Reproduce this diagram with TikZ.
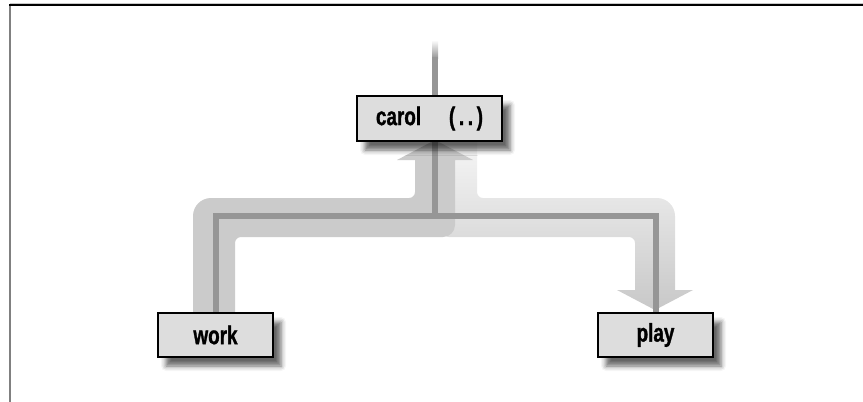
\documentclass[tikz,border=0pt]{standalone}
\usepackage{fontspec}
\newfontfamily\condf[FakeStretch=0.74, BoldFeatures={FakeBold=1.2}]{Liberation Sans}
\usetikzlibrary{shadows.blur}
\pgfdeclarelayer{bands}
\pgfdeclarelayer{spines}
\pgfsetlayers{bands,spines,main}
\definecolor{bandA}{RGB}{203,203,203}
\definecolor{bandBtop}{RGB}{246,246,246}
\definecolor{bandBbot}{RGB}{200,200,200}
\definecolor{darkln}{RGB}{150,150,150}
\definecolor{boxfill}{RGB}{221,221,221}
\definecolor{framegray}{RGB}{128,128,128}
\definecolor{framelight}{RGB}{200,200,200}
\begin{document}
\begin{tikzpicture}[x=1pt,y=-1pt,
  box/.style={draw=black, line width=2.5pt, fill=boxfill, inner sep=0pt,
    font=\condf\bfseries\fontsize{25.5}{28}\selectfont,
    blur shadow={shadow xshift=8pt, shadow yshift=-9pt, shadow blur radius=5pt, shadow opacity=60}},
  spine/.style={draw=darkln, line width=6pt, line join=miter}]
\useasboundingbox (0,0) rectangle (863,402);
% frame
\draw[framelight, line width=1pt] (10,3.2) -- (863,3.2);
\draw[framegray, line width=2pt] (10,5) -- (10,402);
\draw[black, line width=1.6pt] (9,5) -- (863,5);
% nodes
\node[box, minimum width=145pt, minimum height=45pt] (carol) at (429.5,118.5)
  {\makebox[46pt][l]{carol}\hspace{27pt}\makebox[34pt]{(\hfill.\hfill.\hfill)}};
\node[box, minimum width=115pt, minimum height=44pt] (work) at (215.5,335) {work};
\node[box, minimum width=115pt, minimum height=44pt] (play) at (655.5,335) {play};
\coordinate (topc) at (435,57);
\coordinate (jn) at (435,216);
% bands
\begin{pgfonlayer}{bands}
\shade[top color=bandBtop, bottom color=bandBbot]
  (437,140) [rounded corners=12pt] -- (437,237) [rounded corners=6pt] -- (635,237)
  [sharp corners] -- (635,290) -- (617,290) -- (655,310) -- (693,290) -- (675,290)
  [rounded corners=18pt] -- (675,198) [rounded corners=6pt] -- (477,198)
  [sharp corners] -- (477,140) -- cycle;
\fill[bandA]
  (193,320) [rounded corners=18pt] -- (193,198) [rounded corners=6pt] -- (415,198)
  [sharp corners] -- (415,160) -- (397,160) -- (435,140) -- (473,160) -- (455,160)
  [rounded corners=12pt] -- (455,237) [rounded corners=6pt] -- (235,237)
  [sharp corners] -- (235,320) -- cycle;
\end{pgfonlayer}
% spine lines
\begin{pgfonlayer}{spines}
\shade[top color=white, bottom color=darkln] (432,40) rectangle (438,58);
\draw[spine] (topc) -- (carol.north -| topc);
\draw[spine] (carol.south -| jn) -- (jn);
\draw[spine] (work.north) |- (play.north |- jn) -- (play.north);
\end{pgfonlayer}
\end{tikzpicture}
\end{document}
